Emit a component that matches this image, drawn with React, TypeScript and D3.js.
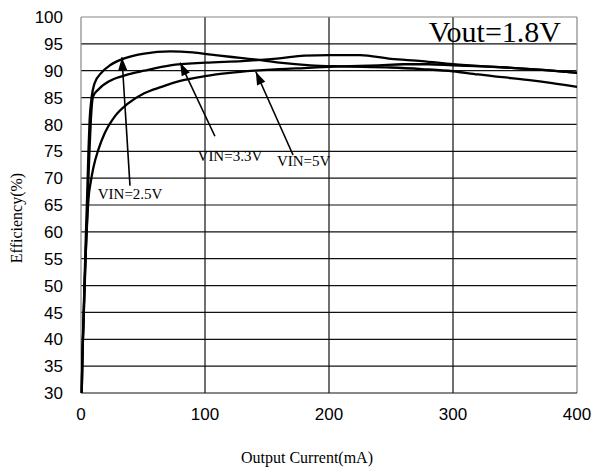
import * as d3 from 'd3';

// efficiency curves, [output current mA, efficiency %]
const vin25: [number, number][] = [
  [0.6, 30], [1, 36], [2, 44], [3, 52], [4, 60], [5, 67], [6, 75], [7, 81], [8.3, 84.5],
  [11, 87.7], [16, 89.5], [24, 91.1], [35, 92.3], [51, 93.2], [72, 93.6], [90, 93.4],
  [105, 93.0], [120, 92.6], [140, 92.1], [160, 91.5], [185, 91.0], [210, 90.8],
  [250, 90.6], [275, 90.3], [300, 89.9], [320, 89.3], [340, 88.8], [360, 88.3],
  [380, 87.7], [400, 87.0],
];
const vin33: [number, number][] = [
  [0.6, 30], [1, 35], [2, 43], [3, 50], [4, 57], [5, 63], [6, 70], [7, 76], [8, 81],
  [9.7, 85.2], [14, 86.5], [24, 88.2], [38, 89.3], [51, 90], [72, 91], [100, 91.5],
  [130, 91.8], [160, 92.3], [180, 92.8], [200, 92.9], [225, 92.9], [250, 92.2],
  [275, 91.8], [300, 91.2], [325, 90.8], [350, 90.5], [375, 90.1], [400, 89.6],
];
const vin5: [number, number][] = [
  [0.6, 30], [1, 35], [2, 43], [3, 51], [4, 57], [5, 62], [6, 66], [8, 69.5], [10, 72],
  [14, 75.3], [19, 78.3], [27, 81.4], [38, 83.9], [51, 85.8], [65, 87.0], [80, 88.1],
  [100, 89], [120, 89.6], [140, 90.0], [160, 90.3], [180, 90.5], [210, 90.8],
  [240, 91.0], [260, 91.2], [280, 91.2], [300, 91.0], [325, 90.8], [350, 90.5],
  [375, 90.1], [400, 89.6],
];

const xTicks = [0, 100, 200, 300, 400];
const yTicks = [30, 35, 40, 45, 50, 55, 60, 65, 70, 75, 80, 85, 90, 95, 100];

// annotations in data units: label anchor, arrow tail, arrow tip
const notes = [
  { text: 'VIN=2.5V', label: [13.5, 66.2], tail: [39.5, 68.6], tip: [33, 92.5] },
  { text: 'VIN=3.3V', label: [94, 73.1], tail: [108, 77.8], tip: [80, 91.5] },
  { text: 'VIN=5V', label: [158, 72.2], tail: [171, 74.3], tip: [141, 89.8] },
];

const App = () => {
  const width = 593;
  const height = 473;
  const x = d3.scaleLinear().domain([0, 400]).range([81, 577]);
  const y = d3.scaleLinear().domain([30, 100]).range([393, 17]);
  const line = d3.line<[number, number]>()
    .x((d) => x(d[0]))
    .y((d) => y(d[1]))
    .curve(d3.curveMonotoneX);

  const arrowHead = (tail: number[], tip: number[]) => {
    const x0 = x(tail[0]), y0 = y(tail[1]), x1 = x(tip[0]), y1 = y(tip[1]);
    const a = Math.atan2(y1 - y0, x1 - x0);
    const len = 13, w = 4.5;
    const bx = x1 - len * Math.cos(a), by = y1 - len * Math.sin(a);
    const px = -Math.sin(a) * w, py = Math.cos(a) * w;
    return `M${x1},${y1}L${bx + px},${by + py}L${bx - px},${by - py}Z`;
  };

  return (
    <svg width={width} height={height} style={{ position: 'absolute', left: 0, top: 0, background: '#fff' }}>
      {yTicks.map((t) => (
        <g key={'y' + t}>
          {t > 30 && t < 100 && (
            <line x1={x(0)} x2={x(400)} y1={y(t)} y2={y(t)} stroke="#111" strokeWidth={1.2} />
          )}
          <text x={63} y={y(t)} dy="0.36em" textAnchor="end"
            style={{ fontFamily: 'Liberation Sans', fontSize: 17 }}>{t}</text>
        </g>
      ))}
      {xTicks.map((t) => (
        <g key={'x' + t}>
          {t > 0 && t < 400 && (
            <line x1={x(t)} x2={x(t)} y1={y(30)} y2={y(100)} stroke="#111" strokeWidth={1.2} />
          )}
          <text x={x(t)} y={420} textAnchor="middle"
            style={{ fontFamily: 'Liberation Sans', fontSize: 17 }}>{t}</text>
        </g>
      ))}
      <line x1={x(0)} x2={x(400)} y1={y(100)} y2={y(100)} stroke="#888" strokeWidth={1.2} />
      <line x1={x(400)} x2={x(400)} y1={y(100)} y2={y(30)} stroke="#888" strokeWidth={1.2} />
      <line x1={x(0)} x2={x(0)} y1={y(100)} y2={y(30)} stroke="#888" strokeWidth={1.2} />
      <line x1={x(0)} x2={x(400)} y1={y(30)} y2={y(30)} stroke="#111" strokeWidth={1.2} />

      {[vin25, vin33, vin5].map((s, i) => (
        <path key={i} d={line(s)!} fill="none" stroke="#000" strokeWidth={2.3} />
      ))}

      {notes.map((n) => (
        <g key={n.text}>
          <line x1={x(n.tail[0])} y1={y(n.tail[1])} x2={x(n.tip[0])} y2={y(n.tip[1])}
            stroke="#000" strokeWidth={1.6} />
          <path d={arrowHead(n.tail, n.tip)} fill="#000" />
          <text x={x(n.label[0])} y={y(n.label[1])}
            style={{ fontFamily: 'Liberation Serif', fontSize: 15 }}>{n.text}</text>
        </g>
      ))}

      <text x={561} y={42} textAnchor="end"
        style={{ fontFamily: 'Liberation Serif', fontSize: 30 }}>Vout=1.8V</text>
      <text x={307} y={463} textAnchor="middle"
        style={{ fontFamily: 'Liberation Serif', fontSize: 16 }}>Output Current(mA)</text>
      <text transform="translate(22,218) rotate(-90)" textAnchor="middle"
        style={{ fontFamily: 'Liberation Serif', fontSize: 16 }}>Efficiency(%)</text>
    </svg>
  );
};

export default App;
